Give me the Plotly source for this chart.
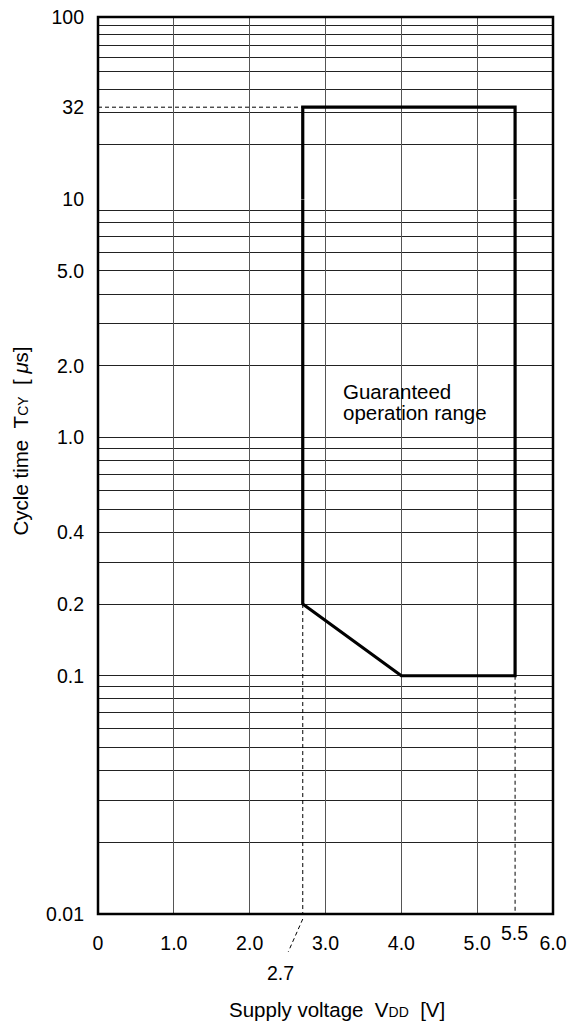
import math
import plotly.graph_objects as go

# ---- data ----
x_tickvals = [0, 1, 2, 3, 4, 5, 6]
x_ticktext = ["0", "1.0", "2.0", "3.0", "4.0", "5.0", "6.0"]

y_top_tickvals = [100, 32]
y_top_ticktext = ["100", "32"]
y_bot_tickvals = [10, 5, 2, 1, 0.4, 0.2, 0.1, 0.01]
y_bot_ticktext = ["10", "5.0", "2.0", "1.0", "0.4", "0.2", "0.1", "0.01"]

grid_top = [20, 30, 40, 50, 60, 70, 80, 90, 100]
grid_bot = [0.02, 0.03, 0.04, 0.05, 0.06, 0.07, 0.08, 0.09,
            0.1, 0.2, 0.3, 0.4, 0.5, 0.6, 0.7, 0.8, 0.9,
            1, 2, 3, 4, 5, 6, 7, 8, 9, 10]

# guaranteed operation range boundary (V, us)
v_min, v_mid, v_max = 2.7, 4.0, 5.5
t_max, t_knee, t_min = 32, 0.2, 0.1
t_split = 10  # boundary between the two drawn decade blocks

FONT = "Liberation Sans, Arial, Helvetica, sans-serif"
BLACK = "#000"
NB = "\u00a0"

fig = go.Figure()

# top part of the boundary (10..100 block)
fig.add_trace(go.Scatter(
    x=[v_min, v_min, v_max, v_max], y=[t_split, t_max, t_max, t_split],
    mode="lines", line=dict(color=BLACK, width=3.2), xaxis="x2", yaxis="y2",
    showlegend=False, hoverinfo="skip"))
# dashed 32 reference line
fig.add_trace(go.Scatter(
    x=[0, v_min], y=[t_max, t_max], mode="lines",
    line=dict(color=BLACK, width=1, dash="4px,3px"), xaxis="x2", yaxis="y2",
    showlegend=False, hoverinfo="skip"))

# bottom part of the boundary (0.01..10 block)
fig.add_trace(go.Scatter(
    x=[v_min, v_min, v_mid, v_max, v_max], y=[t_split, t_knee, t_min, t_min, t_split],
    mode="lines", line=dict(color=BLACK, width=3.2), xaxis="x", yaxis="y",
    showlegend=False, hoverinfo="skip"))
# dashed verticals
fig.add_trace(go.Scatter(
    x=[v_min, v_min], y=[t_knee, 0.01], mode="lines",
    line=dict(color=BLACK, width=1, dash="4px,3px"),
    showlegend=False, hoverinfo="skip"))
fig.add_trace(go.Scatter(
    x=[v_max, v_max], y=[t_min, 0.01], mode="lines",
    line=dict(color=BLACK, width=1, dash="4px,3px"),
    showlegend=False, hoverinfo="skip"))

split = 0.7968
grid_x = dict(showgrid=True, gridcolor="#555", gridwidth=1)
TICKFONT = dict(size=19.5)
ANNFONT = dict(size=20.5)

fig.update_layout(
    width=567, height=1027,
    margin=dict(l=98, r=14, t=17, b=113),
    paper_bgcolor="white", plot_bgcolor="white",
    font=dict(family=FONT, size=19.5, color=BLACK),
    showlegend=False,
    xaxis=dict(range=[0, 6], tickmode="array", tickvals=x_tickvals, ticktext=x_ticktext,
               ticks="", ticklabelstandoff=15, zeroline=False, showline=False,
               automargin=False, ticklabeloverflow="allow", tickfont=TICKFONT,
               domain=[0, 1], anchor="y", **grid_x),
    xaxis2=dict(range=[0, 6], tickmode="array", tickvals=x_tickvals, showticklabels=False,
                ticks="", zeroline=False, showline=False, matches="x", automargin=False,
                domain=[0, 1], anchor="y2", **grid_x),
    yaxis=dict(type="log", range=[-2, 1], domain=[0, split], anchor="x",
               tickmode="array", tickvals=y_bot_tickvals, ticktext=y_bot_ticktext,
               ticks="", showgrid=False, zeroline=False, showline=False,
               ticklabelstandoff=13, automargin=False, ticklabeloverflow="allow",
               tickfont=TICKFONT,
               minor=dict(tickmode="array", tickvals=grid_bot, showgrid=True,
                          gridcolor="#222", gridwidth=1, ticks="")),
    yaxis2=dict(type="log", range=[1, 2], domain=[split, 1], anchor="x2",
                tickmode="array", tickvals=y_top_tickvals, ticktext=y_top_ticktext,
                ticks="", showgrid=False, zeroline=False, showline=False,
                ticklabelstandoff=13, automargin=False, ticklabeloverflow="allow",
                tickfont=TICKFONT,
                minor=dict(tickmode="array", tickvals=grid_top, showgrid=True,
                           gridcolor="#222", gridwidth=1, ticks="")),
)

# frame
fig.add_shape(type="rect", xref="paper", yref="paper", x0=0, x1=1, y0=0, y1=1,
              line=dict(color=BLACK, width=2.5), layer="above")

# 2.7 leader line
fig.add_shape(type="line", xref="x", yref="paper", x0=v_min, x1=2.51, y0=-0.0056, y1=-0.042,
              line=dict(color=BLACK, width=1, dash="4px,3px"))

fig.add_annotation(x=2.413, y=-0.0658, xref="x", yref="paper", text="2.7",
                   showarrow=False, font=TICKFONT, xanchor="center", yanchor="middle")
fig.add_annotation(x=5.486, y=-0.0212, xref="x", yref="paper", text="5.5",
                   showarrow=False, font=TICKFONT, xanchor="center", yanchor="middle")

fig.add_annotation(x=3.2, y=0.195, xref="x", yref="y", text="Guaranteed",
                   showarrow=False, xanchor="left", yanchor="middle", font=ANNFONT)
fig.add_annotation(x=3.2, y=0.107, xref="x", yref="y", text="operation range",
                   showarrow=False, xanchor="left", yanchor="middle", font=ANNFONT)

fig.add_annotation(x=-0.171, y=0.527, xref="paper", yref="paper",
                   text=f'Cycle time{NB}{NB}T<span style="font-size:14px">CY</span>{NB}{NB}[ <i>μ</i>s]',
                   textangle=-90, showarrow=False, font=ANNFONT,
                   xanchor="center", yanchor="middle")
fig.add_annotation(x=0.525, y=-0.106, xref="paper", yref="paper",
                   text=f'Supply voltage{NB}{NB}V<span style="font-size:14px">DD</span>{NB}{NB}[V]',
                   showarrow=False, font=ANNFONT, xanchor="center", yanchor="middle")

fig.write_html("out.html", config={"displayModeBar": False},
               post_script="document.body.style.margin='0';")
